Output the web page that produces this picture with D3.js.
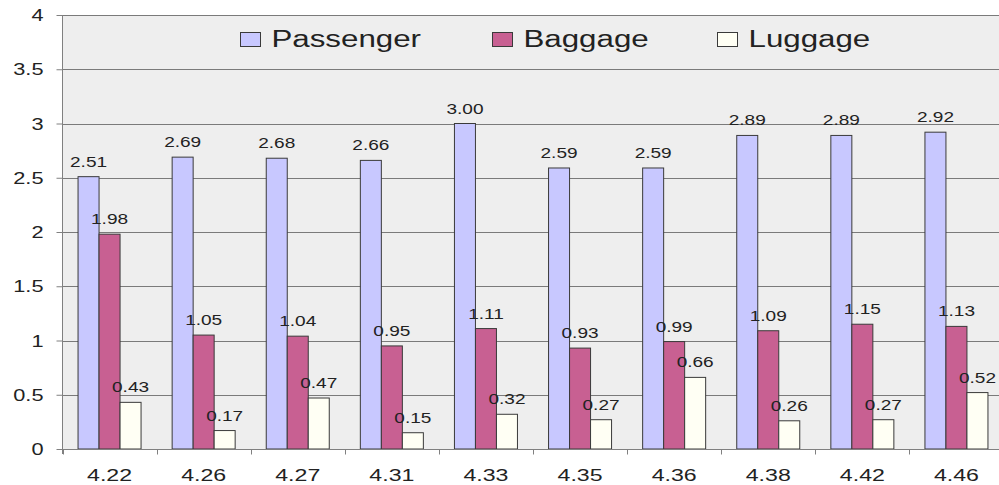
<!DOCTYPE html>
<html><head><meta charset="utf-8">
<script src="https://cdn.jsdelivr.net/npm/d3@7/dist/d3.min.js"></script>
<style>body{margin:0;background:#fff}svg{display:block}text{font-family:"Liberation Sans",Arial,sans-serif;fill:#222}</style>
</head><body>
<svg id="c" width="999" height="485"></svg>
<script>
const categories = ["4.22","4.26","4.27","4.31","4.33","4.35","4.36","4.38","4.42","4.46"];
const seriesNames = ["Passenger","Baggage","Luggage"];
const passenger = [2.51,2.69,2.68,2.66,3.00,2.59,2.59,2.89,2.89,2.92];
const baggage = [1.98,1.05,1.04,0.95,1.11,0.93,0.99,1.09,1.15,1.13];
const luggage = [0.43,0.17,0.47,0.15,0.32,0.27,0.66,0.26,0.27,0.52];
const yTicks = [0,0.5,1,1.5,2,2.5,3,3.5,4];
const colors = ["#c8c8ff","#c86092","#fffff4"];
const series = [passenger, baggage, luggage];

const SX = 1.36;
const svg = d3.select("#c");
const pL = 62.5, pR = 1003.5, pT = 15, pB = 449;
const x = d3.scaleBand().domain(categories).range([pL, pR]).paddingInner(0).paddingOuter(0);
const inner = d3.scaleBand().domain(seriesNames).range([0, x.bandwidth()]).paddingOuter(0.74).paddingInner(0);
const y = d3.scaleLinear().domain([0,4]).range([pB, pT]);

// plot background
svg.append("rect").attr("x", pL).attr("y", pT).attr("width", 999-pL).attr("height", pB-pT).attr("fill", "#eeeeee");

// gridlines
svg.append("g").selectAll("line").data(yTicks.filter(d=>d>0)).join("line")
  .attr("x1", pL).attr("x2", 999).attr("y1", d=>Math.round(y(d))+0.5).attr("y2", d=>Math.round(y(d))+0.5)
  .attr("stroke", "#7a7a7a").attr("stroke-width", 1);

// bars
const g = svg.append("g");
series.forEach((vals, si) => {
  g.append("g").selectAll("rect").data(vals).join("rect")
    .attr("x", (d,i)=> x(categories[i]) + inner(seriesNames[si]))
    .attr("y", d => y(d))
    .attr("width", inner.bandwidth())
    .attr("height", d => y(0) - y(d))
    .attr("fill", colors[si]).attr("stroke", "#3a3a3a").attr("stroke-width", 1);
  g.append("g").selectAll("text").data(vals).join("text")
    .attr("transform", (d,i)=> `translate(${x(categories[i]) + inner(seriesNames[si]) + inner.bandwidth()/2},${y(d)-10}) scale(${SX},1)`)
    .attr("text-anchor", "middle").attr("font-size", 14)
    .text(d => d.toFixed(2));
});

// axes
const yAxis = d3.axisLeft(y).tickValues(yTicks).tickSize(6).tickFormat(d=>String(d));
const ya = svg.append("g").attr("transform", `translate(${pL},0)`).call(yAxis);
ya.select(".domain").attr("stroke", "#808080").attr("d", `M0,${pT}V${pB+5}`);
ya.selectAll(".tick line").attr("stroke", "#808080");
ya.selectAll(".tick text").attr("font-size", 16).attr("fill", "#222")
  .attr("x", null).attr("dy", "0.35em")
  .attr("transform", `translate(-19,0) scale(${SX},1)`).attr("text-anchor", "end");

const xa = svg.append("g").attr("transform", `translate(0,${pB+0.5})`);
xa.append("line").attr("x1", pL).attr("x2", 999).attr("stroke", "#808080");
xa.selectAll("line.t").data(categories).join("line").attr("class","t")
  .attr("x1", d=>Math.round(x(d))+0.5).attr("x2", d=>Math.round(x(d))+0.5).attr("y1",0).attr("y2",5).attr("stroke","#808080");
xa.selectAll("text").data(categories).join("text")
  .attr("transform", d=>`translate(${x(d)+x.bandwidth()/2},${480-pB}) scale(${SX},1)`)
  .attr("text-anchor","middle").attr("font-size", 17).text(d=>d);

// legend
const legX = [240.5, 492.5, 717.5];
const leg = svg.append("g");
seriesNames.forEach((n,i)=>{
  leg.append("rect").attr("x", legX[i]).attr("y", 32.5).attr("width", 20).attr("height", 14)
    .attr("fill", colors[i]).attr("stroke", "#3a3a3a");
  leg.append("text").attr("transform", `translate(${legX[i]+31},47.3) scale(${SX},1)`)
    .attr("font-size", 23).text(n);
});
</script>
</body></html>
